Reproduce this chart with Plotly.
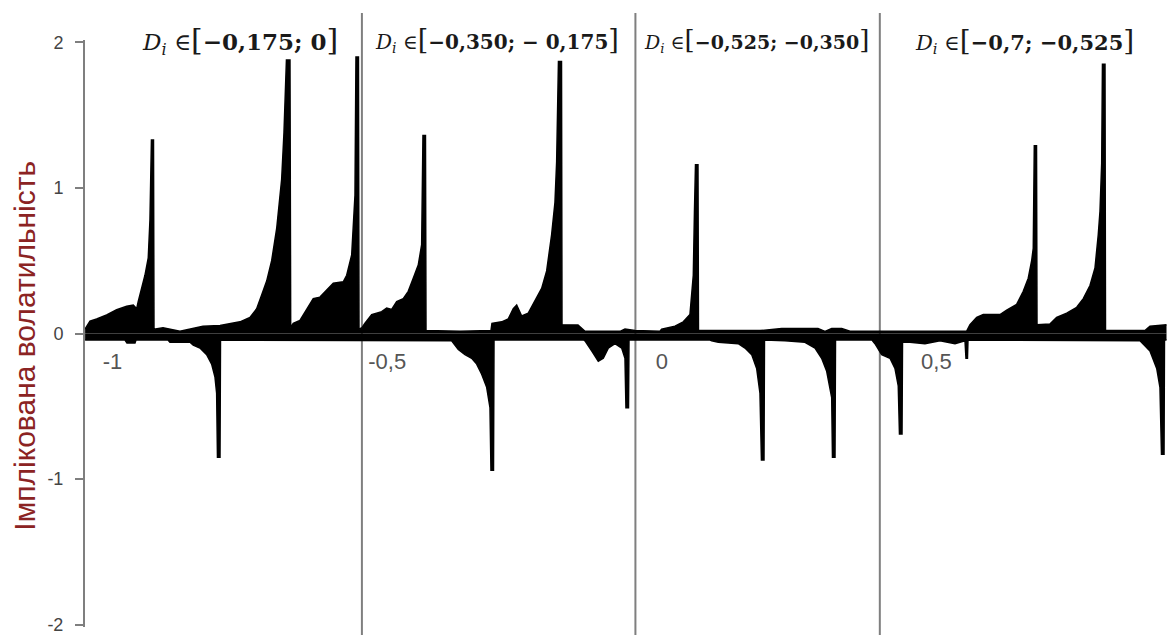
import plotly.graph_objects as go

# ---- data ----
pos_x = [-1.050, -1.0411, -1.0290, -1.0108, -0.9925, -0.9743, -0.9623, -0.9561, -0.9532, -0.9470,
         -0.9410, -0.9350, -0.9319, -0.9292, -0.9255, -0.9246, -0.9082, -0.8773, -0.8354, -0.8044,
         -0.7953, -0.7680, -0.7498, -0.7376, -0.7285, -0.7194, -0.7103, -0.7012, -0.6921, -0.6879,
         -0.6834, -0.6770, -0.6757, -0.6710, -0.6588, -0.6466, -0.6346, -0.6224, -0.6102, -0.5981,
         -0.5799, -0.5737, -0.5646, -0.5586, -0.5568, -0.5523, -0.5513,
         -0.5459, -0.5404, -0.5282, -0.5100, -0.5009, -0.4918, -0.4827, -0.4707, -0.4616, -0.4525,
         -0.4434, -0.4372, -0.4348, -0.4303, -0.4293, -0.3674, -0.3110, -0.3092, -0.2915, -0.2795,
         -0.2704, -0.2642, -0.2551, -0.2431, -0.2309, -0.2187, -0.2096, -0.2005, -0.1945, -0.1914,
         -0.1881, -0.1826, -0.1817, -0.1672, -0.1526, -0.1398, -0.0761, -0.0670, -0.0488,
         -0.0033, -0.0002, 0.0240, 0.0391, 0.0513, 0.0574, 0.0595, 0.0614, 0.0659, 0.0668,
         0.1788, 0.2183, 0.2844, 0.2972, 0.3094, 0.3276, 0.3427,
         0.5430, 0.5552, 0.5612, 0.5734, 0.5854, 0.6158, 0.6280, 0.6462, 0.6582, 0.6673,
         0.6735, 0.6764, 0.6783, 0.6823, 0.6832, 0.6886, 0.7068, 0.7190, 0.7373, 0.7555,
         0.7675, 0.7797, 0.7888, 0.7948, 0.7979, 0.8010, 0.8024, 0.8070, 0.8079, 0.8798,
         0.8889, 0.919]
pos_y = [0.03, 0.085, 0.10, 0.127, 0.163, 0.188, 0.195, 0.17, 0.22, 0.31,
         0.40, 0.52, 0.78, 1.33, 1.33, 0.03, 0.04, 0.015, 0.05, 0.055,
         0.06, 0.08, 0.11, 0.17, 0.265, 0.36, 0.50, 0.72, 1.06, 1.38,
         1.88, 1.88, 0.04, 0.07, 0.09, 0.17, 0.24, 0.25, 0.30, 0.345,
         0.355, 0.40, 0.54, 0.95, 1.90, 1.90, 0.03,
         0.04, 0.07, 0.13, 0.15, 0.175, 0.165, 0.22, 0.24, 0.29, 0.38,
         0.47, 0.61, 1.36, 1.36, 0.02, 0.015, 0.02, 0.07, 0.08, 0.10,
         0.17, 0.195, 0.12, 0.14, 0.22, 0.31, 0.43, 0.68, 0.90, 1.18,
         1.87, 1.87, 0.06, 0.06, 0.058, 0.015, 0.015, 0.03, 0.02,
         0.015, 0.03, 0.05, 0.08, 0.13, 0.40, 0.835, 1.16, 1.16, 0.02,
         0.02, 0.035, 0.035, 0.015, 0.035, 0.035, 0.015,
         0.015, 0.017, 0.06, 0.11, 0.13, 0.13, 0.16, 0.20, 0.29, 0.38,
         0.50, 0.585, 1.29, 1.29, 0.06, 0.06, 0.065, 0.11, 0.14, 0.18,
         0.24, 0.33, 0.45, 0.68, 0.84, 1.17, 1.85, 1.85, 0.02, 0.02,
         0.05, 0.06]

neg_x = [-1.050, -0.9774, -0.9738, -0.9592, -0.9574, -0.8991, -0.8955, -0.8591, -0.8531, -0.8409,
         -0.8287, -0.8196, -0.8135, -0.8105, -0.8090, -0.8044, -0.8035, -0.4221,
         -0.3948, -0.3826, -0.3705, -0.3583, -0.3461, -0.3370, -0.3279, -0.3188, -0.3128, -0.3110,
         -0.3064, -0.3055, -0.1417, -0.1398, -0.1276, -0.1156, -0.1065, -0.0974, -0.0852, -0.0730,
         -0.0670, -0.0652, -0.0606, -0.0597,
         0.0878, 0.0909, 0.1029, 0.1393, 0.1515, 0.1637, 0.1728, 0.1788, 0.1815, 0.1861,
         0.1870, 0.2152, 0.2243, 0.2607, 0.2790, 0.2911, 0.3003, 0.3094, 0.3108, 0.3154,
         0.3163, 0.3827, 0.3882, 0.4004, 0.4155, 0.4246, 0.4306, 0.4328, 0.4374, 0.4383,
         0.4519, 0.4792, 0.5066, 0.5339, 0.5521, 0.5539, 0.5566, 0.5575, 0.8616, 0.8707,
         0.8889, 0.9012, 0.9071, 0.9099, 0.9145, 0.9153, 0.919]
neg_y = [-0.045, -0.045, -0.065, -0.065, -0.045, -0.045, -0.06, -0.06, -0.08, -0.10,
         -0.145, -0.21, -0.30, -0.41, -0.85, -0.85, -0.045, -0.045,
         -0.045, -0.05, -0.11, -0.145, -0.17, -0.21, -0.28, -0.37, -0.51, -0.94,
         -0.94, -0.045, -0.045, -0.05, -0.12, -0.19, -0.17, -0.10, -0.07, -0.10,
         -0.17, -0.51, -0.51, -0.045,
         -0.045, -0.05, -0.06, -0.07, -0.10, -0.145, -0.24, -0.41, -0.87, -0.87,
         -0.045, -0.045, -0.05, -0.06, -0.10, -0.17, -0.26, -0.44, -0.85, -0.85,
         -0.045, -0.045, -0.07, -0.145, -0.17, -0.24, -0.36, -0.69, -0.69, -0.06,
         -0.06, -0.07, -0.05, -0.07, -0.05, -0.17, -0.17, -0.045, -0.045, -0.05,
         -0.12, -0.24, -0.37, -0.83, -0.83, -0.045, -0.045]

y_tick_vals = [2, 1, 0, -1, -2]
y_tick_text = ["2", "1", "0", "-1", "-2"]
x_tick_vals = [-1, -0.5, 0, 0.5]
x_tick_text = ["-1", "-0,5", "0", "0,5"]

dividers = [-0.546, -0.048, 0.397]
region_x = [-0.768, -0.300, 0.173, 0.661]
region_ranges = ["−0,175; 0", "−0,350; − 0,175", "−0,525; −0,350", "−0,7; −0,525"]
region_sizes = [23, 20, 19, 21]
y_title = "Імплікована волатильність"

fig = go.Figure()
fig.add_trace(go.Scatter(x=pos_x, y=pos_y, mode="lines", fill="tozeroy",
                         fillcolor="black", line=dict(color="black", width=1.5),
                         hoverinfo="skip", showlegend=False))
fig.add_trace(go.Scatter(x=neg_x, y=neg_y, mode="lines", fill="tozeroy",
                         fillcolor="black", line=dict(color="black", width=1.5),
                         hoverinfo="skip", showlegend=False))

for d in dividers:
    fig.add_shape(type="line", xref="x", yref="paper", x0=d, x1=d, y0=-0.02, y1=1.046,
                  line=dict(color="#7f7f7f", width=2), layer="below")

for xv, rng, fs in zip(region_x, region_ranges, region_sizes):
    big = fs + 7
    txt = (f"<i>D</i><sub><i>i</i></sub> ∈<span style='font-size:{big}px'>[</span>"
           f"<b>{rng}</b><span style='font-size:{big}px'>]</span>")
    fig.add_annotation(x=xv, y=1.0, xref="x", yref="paper", text=txt, showarrow=False,
                       xanchor="center", yanchor="middle",
                       font=dict(family="DejaVu Serif", size=fs, color="#1a1a1a"))

fig.add_annotation(x=-0.056, y=0.48, xref="paper", yref="paper", text=y_title,
                   textangle=-90, showarrow=False, xanchor="center", yanchor="middle",
                   font=dict(family="Liberation Sans", size=30, color="#8b2323"))

fig.update_layout(
    width=1167, height=635,
    margin=dict(l=85, r=0, t=40, b=5),
    paper_bgcolor="white", plot_bgcolor="white",
    xaxis=dict(range=[-1.0502, 0.9199], anchor="free", position=0.5,
               tickvals=x_tick_vals, ticktext=x_tick_text, ticks="", showline=False,
               showgrid=False, zeroline=False, ticklabelstandoff=12,
               tickfont=dict(family="Liberation Sans", size=22, color="#555555")),
    yaxis=dict(range=[-2.017, 2.017], tickvals=y_tick_vals, ticktext=y_tick_text,
               ticks="outside", ticklen=8, tickwidth=2, tickcolor="#7f7f7f",
               showline=True, linecolor="#7f7f7f", linewidth=2,
               showgrid=False, zeroline=False, ticklabelstandoff=8,
               ticklabeloverflow="allow",
               tickfont=dict(family="Liberation Sans", size=18, color="#444444")),
)

# remove the browser's default page margin so the 1167x635 figure fills the window exactly
fig.write_html("out.html", config={"displayModeBar": False},
               post_script="document.body.style.margin='0';document.body.style.overflow='hidden';")
